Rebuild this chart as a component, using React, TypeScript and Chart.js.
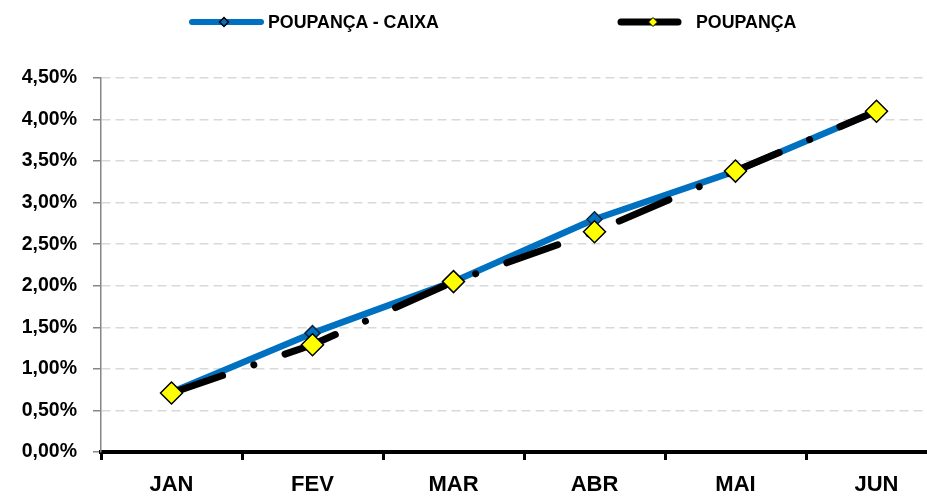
import React, { useEffect, useRef } from 'react';
import { Chart, registerables } from 'chart.js';

Chart.register(...registerables);

const categories = ['JAN', 'FEV', 'MAR', 'ABR', 'MAI', 'JUN'];
const poupancaCaixa = [0.72, 1.43, 2.05, 2.8, 3.38, 4.1];
const poupanca = [0.71, 1.29, 2.05, 2.65, 3.38, 4.1];
const yTickLabels = ['0,00%', '0,50%', '1,00%', '1,50%', '2,00%', '2,50%', '3,00%', '3,50%', '4,00%', '4,50%'];
const seriesNames = ['POUPANÇA - CAIXA', 'POUPANÇA'];

const FONT = '"Liberation Sans", Arial, sans-serif';
const W = 960;
const H = 497;

function diamond(cx: number, cy: number, r: number) {
  return `${cx},${cy - r} ${cx + r},${cy} ${cx},${cy + r} ${cx - r},${cy}`;
}

export default function App() {
  const ref = useRef<HTMLCanvasElement>(null);

  useEffect(() => {
    const chart = new Chart(ref.current as HTMLCanvasElement, {
      type: 'line',
      data: {
        labels: categories,
        datasets: [
          {
            label: seriesNames[1],
            data: poupanca,
            order: 1,
            borderColor: '#000000',
            borderWidth: 7,
            borderDash: [54, 33, 0.01, 33],
            borderCapStyle: 'round',
            borderJoinStyle: 'round',
            tension: 0,
            fill: false,
            pointStyle: 'rectRot',
            pointRadius: 11,
            pointHoverRadius: 11,
            pointBackgroundColor: '#FFFF00',
            pointBorderColor: '#000000',
            pointBorderWidth: 1.5,
          },
          {
            label: seriesNames[0],
            data: poupancaCaixa,
            order: 2,
            borderColor: '#0070C0',
            borderWidth: 6.5,
            borderCapStyle: 'round',
            borderJoinStyle: 'round',
            tension: 0,
            fill: false,
            pointStyle: 'rectRot',
            pointRadius: 7.5,
            pointHoverRadius: 7.5,
            pointBackgroundColor: '#0070C0',
            pointBorderColor: '#10253F',
            pointBorderWidth: 1.5,
          },
        ],
      },
      options: {
        responsive: false,
        animation: false,
        layout: { padding: { top: 78, right: W - 947, left: 0, bottom: 0 } },
        plugins: { legend: { display: false }, tooltip: { enabled: false } },
        scales: {
          x: {
            type: 'category',
            offset: true,
            grid: {
              offset: true,
              drawOnChartArea: false,
              drawTicks: true,
              tickLength: 8,
              tickWidth: 3,
              tickColor: '#000000',
            },
            border: { color: '#000000', width: 4 },
            ticks: {
              font: { family: FONT, size: 22, weight: 'bold' },
              color: '#000000',
              padding: 12,
              maxRotation: 0,
              autoSkip: false,
            },
            afterFit: (s: any) => {
              s.height = 45;
            },
          },
          y: {
            min: 0,
            max: 4.5,
            ticks: {
              stepSize: 0.5,
              callback: (_v: any, i: number) => yTickLabels[i],
              font: { family: FONT, size: 19.5, weight: 'bold' },
              color: '#000000',
              padding: 16,
            },
            grid: {
              color: '#d9d9d9',
              lineWidth: 1.5,
              drawTicks: true,
              tickLength: 8,
              tickColor: '#868686',
              tickWidth: 1.5,
              tickBorderDash: [],
            },
            border: { color: '#868686', width: 1.5, dash: [9, 5] },
            afterFit: (s: any) => {
              s.width = 101;
            },
          },
        },
      },
    } as any);
    return () => chart.destroy();
  }, []);

  const textStyle: React.CSSProperties = {
    position: 'absolute',
    top: 12,
    fontFamily: FONT,
    fontWeight: 'bold',
    fontSize: 17.8,
    lineHeight: '20px',
    color: '#000',
    whiteSpace: 'nowrap',
  };

  return (
    <div
      style={{
        position: 'fixed',
        left: 0,
        top: 0,
        width: 927,
        height: 497,
        overflow: 'hidden',
        background: '#ffffff',
      }}
    >
      <canvas ref={ref} width={W} height={H} style={{ display: 'block', width: W, height: H }} />
      <svg style={{ position: 'absolute', left: 0, top: 0 }} width={927} height={40}>
        <line x1={192} y1={22} x2={261} y2={22} stroke="#0070C0" strokeWidth={6} strokeLinecap="round" />
        <polygon points={diamond(224, 22, 4.5)} fill="#0070C0" stroke="#000" strokeWidth={1.5} />
        <line x1={621} y1={22} x2={678} y2={22} stroke="#000" strokeWidth={7} strokeLinecap="round" />
        <polygon points={diamond(653, 22, 4.5)} fill="#FFFF00" stroke="#000" strokeWidth={1} />
      </svg>
      <div style={{ ...textStyle, left: 268 }}>{seriesNames[0]}</div>
      <div style={{ ...textStyle, left: 696 }}>{seriesNames[1]}</div>
    </div>
  );
}
